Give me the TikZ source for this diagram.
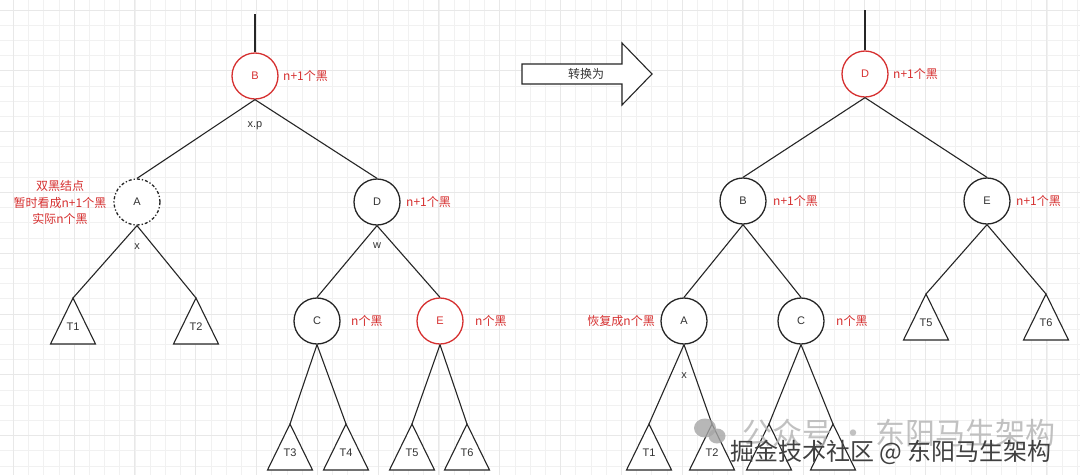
\documentclass[tikz,border=0pt]{standalone}
\usepackage{fontspec}
\setmainfont{Liberation Sans}
\newfontfamily\cjk{Noto Sans CJK SC}
\definecolor{myred}{RGB}{214,48,48}
\definecolor{gridminor}{RGB}{241,241,241}
\definecolor{gridmajor}{RGB}{232,232,232}
\newcommand\mytri[4]{%
  \coordinate (#1) at (#2,#3);
  \draw[edge,fill=white] (#1) -- ++(-22.5,46) -- ++(45,0) -- cycle;
  \node[lab] (#1lab) at (#2,#3+29) {#4};}
\newcommand\mytrib[3]{%
  \coordinate (#1) at (#2,#3);
  \draw[edge,fill=white] (#1) -- ++(-22.5,46) -- ++(45,0) -- cycle;}
\begin{document}
\begin{tikzpicture}[x=1pt,y=-1pt,
  circ/.style={circle,draw=black!85,line width=1.3pt,minimum size=46pt,inner sep=0pt,fill=white,font=\fontsize{11}{13}\selectfont,text=black!80},
  redcirc/.style={circ,draw=myred,text=myred},
  dashcirc/.style={circ,dash dot},
  edge/.style={draw=black!85,line width=1.1pt},
  lab/.style={font=\fontsize{11}{13}\selectfont,text=black!80,inner sep=0pt},
  note/.style={font=\cjk\fontsize{12}{14}\selectfont,text=myred,inner sep=0pt,anchor=west},
]
\useasboundingbox (0,0) rectangle (1080,475);
\fill[white] (0,0) rectangle (1080,475);
% grid
\foreach \i in {0,...,70} {
  \draw[gridminor,line width=0.7pt] (13.3+\i*15.2,0) -- (13.3+\i*15.2,475);
}
\foreach \i in {0,...,30} {
  \draw[gridminor,line width=0.7pt] (0,10+\i*15.2) -- (1080,10+\i*15.2);
}
\foreach \i in {0,...,17} {
  \draw[gridmajor,line width=0.9pt] (13.3+\i*60.8,0) -- (13.3+\i*60.8,475);
}
\foreach \i in {0,...,7} {
  \draw[gridmajor,line width=0.9pt] (0,10+\i*60.8) -- (1080,10+\i*60.8);
}

% ---------- left tree ----------
\node[redcirc] (lB) at (255,76) {B};
\coordinate (lTop) at (255,14);
\node[dashcirc] (lA) at (137,202) {A};
\node[circ] (lD) at (377,202) {D};
\node[circ] (lC) at (317,321) {C};
\node[redcirc] (lE) at (440,321) {E};

\mytri{lT1}{73}{298}{T1}
\mytri{lT2}{196}{298}{T2}
\mytri{lT3}{290}{424}{T3}
\mytri{lT4}{346}{424}{T4}
\mytri{lT5}{412}{424}{T5}
\mytri{lT6}{467}{424}{T6}

\draw[edge] (lTop) -- (lB.north);
\draw[edge] (lB.south) -- (lA.north);
\draw[edge] (lB.south) -- (lD.north);
\draw[edge] (lA.south) -- (lT1);
\draw[edge] (lA.south) -- (lT2);
\draw[edge] (lD.south) -- (lC.north);
\draw[edge] (lD.south) -- (lE.north);
\draw[edge] (lC.south) -- (lT3);
\draw[edge] (lC.south) -- (lT4);
\draw[edge] (lE.south) -- (lT5);
\draw[edge] (lE.south) -- (lT6);

\node[lab] (xp) at (255,126) {x.p};
\node[lab] (lx) at (137,247) {x};
\node[lab] (lw) at (377,246) {w};

\node[note] (nB) at (283,76) {n+1个黑};
\node[note] (nD) at (406,202) {n+1个黑};
\node[note] (nC) at (351,321) {n个黑};
\node[note] (nE) at (475,321) {n个黑};
\node[note,anchor=center,align=center,font=\cjk\fontsize{12}{16.5}\selectfont] (nA) at (60,202.5) {双黑结点\\暂时看成n+1个黑\\实际n个黑};

% ---------- arrow ----------
\draw[edge,fill=white] (522,64) -- (622,64) -- (622,43) -- (652,74) -- (622,105) -- (622,84) -- (522,84) -- cycle;
\node[font=\cjk\fontsize{12}{14}\selectfont,text=black!80] (conv) at (586,74) {转换为};

% ---------- right tree ----------
\coordinate (rTop) at (865,10);
\node[redcirc] (rD) at (865,74) {D};
\node[circ] (rB) at (743,201) {B};
\node[circ] (rE) at (987,201) {E};
\node[circ] (rA) at (684,321) {A};
\node[circ] (rC) at (801,321) {C};

\mytri{rT1}{649}{424}{T1}
\mytri{rT2}{712}{424}{T2}
\mytrib{rT3}{769}{424}
\mytrib{rT4}{833}{424}
\mytri{rT5}{926}{294}{T5}
\mytri{rT6}{1046}{294}{T6}

\draw[edge] (rTop) -- (rD.north);
\draw[edge] (rD.south) -- (rB.north);
\draw[edge] (rD.south) -- (rE.north);
\draw[edge] (rB.south) -- (rA.north);
\draw[edge] (rB.south) -- (rC.north);
\draw[edge] (rA.south) -- (rT1);
\draw[edge] (rA.south) -- (rT2);
\draw[edge] (rC.south) -- (rT3);
\draw[edge] (rC.south) -- (rT4);
\draw[edge] (rE.south) -- (rT5);
\draw[edge] (rE.south) -- (rT6);

\node[lab] (rx) at (684,376) {x};

\node[note] (nrD) at (893,74) {n+1个黑};
\node[note] (nrB) at (773,201) {n+1个黑};
\node[note] (nrE) at (1016,201) {n+1个黑};
\node[note] (nrC) at (836,321) {n个黑};
\node[note,anchor=east] (nrA) at (655,321) {恢复成n个黑};

% ---------- watermark ----------
\fill[black!35,opacity=0.8] (705,428) ellipse (11 and 9.5);
\fill[black!35,opacity=0.8] (717,436) ellipse (8.5 and 7.5);
\node[font=\cjk\fontsize{30}{32}\selectfont,text=black!30,opacity=0.8,anchor=west,inner sep=0pt] (wm1) at (742,433) {公众号 · 东阳马生架构};
\node[font=\cjk\fontsize{24}{26}\selectfont,text=black!75,anchor=west,inner sep=0pt] (wm2) at (730,452) {掘金技术社区 @ 东阳马生架构};
\end{tikzpicture}
\end{document}
